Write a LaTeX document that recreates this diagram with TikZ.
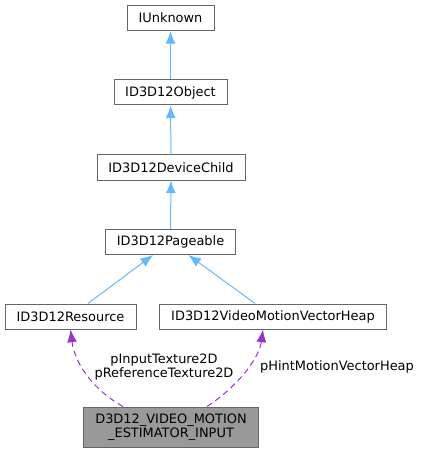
\documentclass[tikz,border=0pt]{standalone}
\usepackage{fontspec}
\setmainfont{DejaVu Sans}
\usetikzlibrary{calc}
\usetikzlibrary{arrows.meta}

\definecolor{boxline}{HTML}{666666}
\definecolor{boxfill}{HTML}{999999}
\definecolor{inherit}{HTML}{63B8FF}
\definecolor{usage}{HTML}{9A32CD}

\tikzset{
  cls/.style={draw=boxline, line width=0.75pt, fill=white, minimum height=18.75pt, inner sep=0pt, font=\fontsize{9.7}{10.5}\selectfont},
  cur/.style={cls, fill=boxfill, minimum height=30pt, align=center},
  inh/.style={draw=inherit, line width=0.75pt, -{Latex[length=9.5pt,width=7.5pt]}},
  dep/.style={draw=usage, line width=0.75pt, dash pattern=on 4.5pt off 3pt, -{Latex[length=9.5pt,width=7.5pt]}},
  lbl/.style={align=center, inner sep=0pt, font=\fontsize{9.7}{10.5}\selectfont}
}

\begin{document}
\begin{tikzpicture}[x=0.75pt, y=-0.75pt]
          \useasboundingbox (0, 0) rectangle (421, 452);
          \node[cls, minimum width=65.25pt] (unknown) at (170.5, 18) {IUnknown};
          \node[cls, minimum width=84.75pt] (object) at (170.5, 92.5) {ID3D12Object};
          \node[cls, minimum width=111pt] (devchild) at (171, 167.5) {ID3D12DeviceChild};
          \node[cls, minimum width=97.5pt] (pageable) at (170.5, 242) {ID3D12Pageable};
          \node[cls, minimum width=98.25pt] (resource) at (70.5, 316.5) {ID3D12Resource};
          \node[cls, minimum width=170.25pt] (mvheap) at (273, 316.5) {ID3D12VideoMotionVectorHeap};
          \node[cur, minimum width=131.25pt] (input) at (171, 427) {D3D12\_VIDEO\_MOTION \\ \_ESTIMATOR\_INPUT};
          %
          \draw[inh] (object) -- (unknown);
          \draw[inh] (devchild) -- (object);
          \draw[inh] (pageable) -- (devchild);
          \draw[inh] (resource) -- (pageable);
          \draw[inh] (mvheap) -- (pageable);
          %
          \draw[dep] ($(input.north)+(-48, 0)$) .. controls +(-32, -18) and +(4, 32) .. (resource.south);
          \draw[dep] ($(input.north)+(36, 0)$) .. controls +(28, -18) and +(-4, 30) .. ($(mvheap.south)+(-10, 0)$);
          \node[lbl] (texlbl) at (164, 367) {pInputTexture2D \\ pReferenceTexture2D};
          \node[lbl] (hintlbl) at (337, 367) {pHintMotionVectorHeap};
        \end{tikzpicture}
\end{document}
